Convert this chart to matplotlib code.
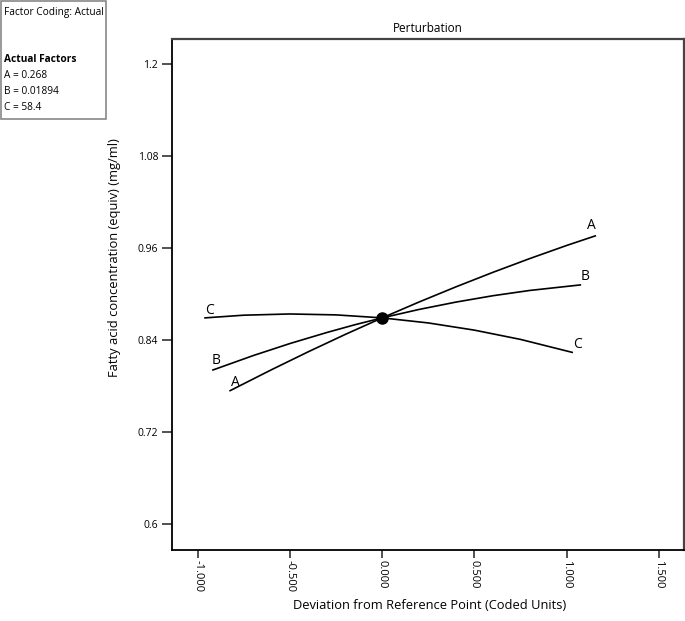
import matplotlib.pyplot as plt
from matplotlib.patches import Rectangle

plt.rcParams['font.family'] = ['Open Sans', 'DejaVu Sans']

# Curvas de perturbación
a_x = [-0.824, -0.6, -0.4, -0.2, 0.0, 0.2, 0.4, 0.6, 0.8, 1.0, 1.155]
a_y = [0.774, 0.8013, 0.8248, 0.8474, 0.869, 0.8897, 0.9095, 0.9284, 0.9464, 0.9635, 0.976]

b_x = [-0.917, -0.7, -0.5, -0.3, -0.15, 0.0, 0.2, 0.4, 0.6, 0.8, 1.074]
b_y = [0.801, 0.8197, 0.8355, 0.8499, 0.8599, 0.869, 0.880, 0.8896, 0.8979, 0.9048, 0.912]

c_x = [-0.96, -0.75, -0.5, -0.25, 0.0, 0.25, 0.5, 0.75, 1.03]
c_y = [0.869, 0.8725, 0.8741, 0.8729, 0.869, 0.8624, 0.853, 0.8409, 0.824]

ref_x = 0.0
ref_y = 0.869

x_ticks = [-1.0, -0.5, 0.0, 0.5, 1.0, 1.5]
y_ticks = [0.6, 0.72, 0.84, 0.96, 1.08, 1.2]
y_tick_labels = ["0.6", "0.72", "0.84", "0.96", "1.08", "1.2"]

factor_lines = ["A = 0.268", "B = 0.01894", "C = 58.4"]

fig = plt.figure(figsize=(6.85, 6.21), dpi=100)
ax = fig.add_axes([0.2511, 0.1143, 0.7474, 0.8229])

# desplazamientos de las etiquetas (izq, der) en pixeles
curves = [("A", a_x, a_y, (5, 8), (-4, 10)),
          ("B", b_x, b_y, (3, 9), (5, 8)),
          ("C", c_x, c_y, (4, 7), (5, 8))]
for name, xs, ys, off_l, off_r in curves:
    ax.plot(xs, ys, color='black', lw=1.2)
    ax.annotate(name, (xs[0], ys[0]), xytext=off_l, textcoords='offset pixels',
                ha='center', va='center', fontsize=10)
    ax.annotate(name, (xs[-1], ys[-1]), xytext=off_r, textcoords='offset pixels',
                ha='center', va='center', fontsize=10)

ax.plot([ref_x], [ref_y], 'o', color='black', markersize=8)

ax.set_xlim(-1.139, 1.636)
ax.set_ylim(0.566, 1.233)
ax.set_xticks(x_ticks)
ax.set_xticklabels([f"{v:.3f}" for v in x_ticks], rotation=-90, fontsize=8)
ax.set_yticks(y_ticks)
ax.set_yticklabels(y_tick_labels, fontsize=7.5)
ax.tick_params(axis='x', direction='out', length=6, width=1.2, color='#333333', pad=1.5)
ax.tick_params(axis='y', direction='out', length=7, width=1.2, color='#333333', pad=3)

for side in ['left', 'bottom']:
    ax.spines[side].set_linewidth(1.3)
    ax.spines[side].set_color('black')
for side in ['top', 'right']:
    ax.spines[side].set_linewidth(1.6)
    ax.spines[side].set_color('#444444')

ax.set_title("Perturbation", fontsize=8.5, pad=5)
ax.set_xlabel("Deviation from Reference Point (Coded Units)", fontsize=9.3, va='center')
ax.set_ylabel("Fatty acid concentration (equiv) (mg/ml)", fontsize=9.3, va='center')
ax.xaxis.set_label_coords(0.504, -0.108)
ax.yaxis.set_label_coords(-0.113, 0.573)

# Cuadro de factores
fig.patches.append(Rectangle((0.001, 1 - 119 / 621), 105 / 685, 118.5 / 621,
                             transform=fig.transFigure, fill=False,
                             edgecolor='#888888', lw=1.2))
fig.text(4 / 685, 1 - 12 / 621, "Factor Coding: Actual", fontsize=7.3, va='center')
fig.text(4 / 685, 1 - 60 / 621, "Actual Factors", fontsize=7.3, fontweight='bold', va='center')
for i, line in enumerate(factor_lines):
    fig.text(4 / 685, 1 - (75 + 16 * i) / 621, line, fontsize=7.3, va='center')

fig.savefig("out.png", dpi=100)
